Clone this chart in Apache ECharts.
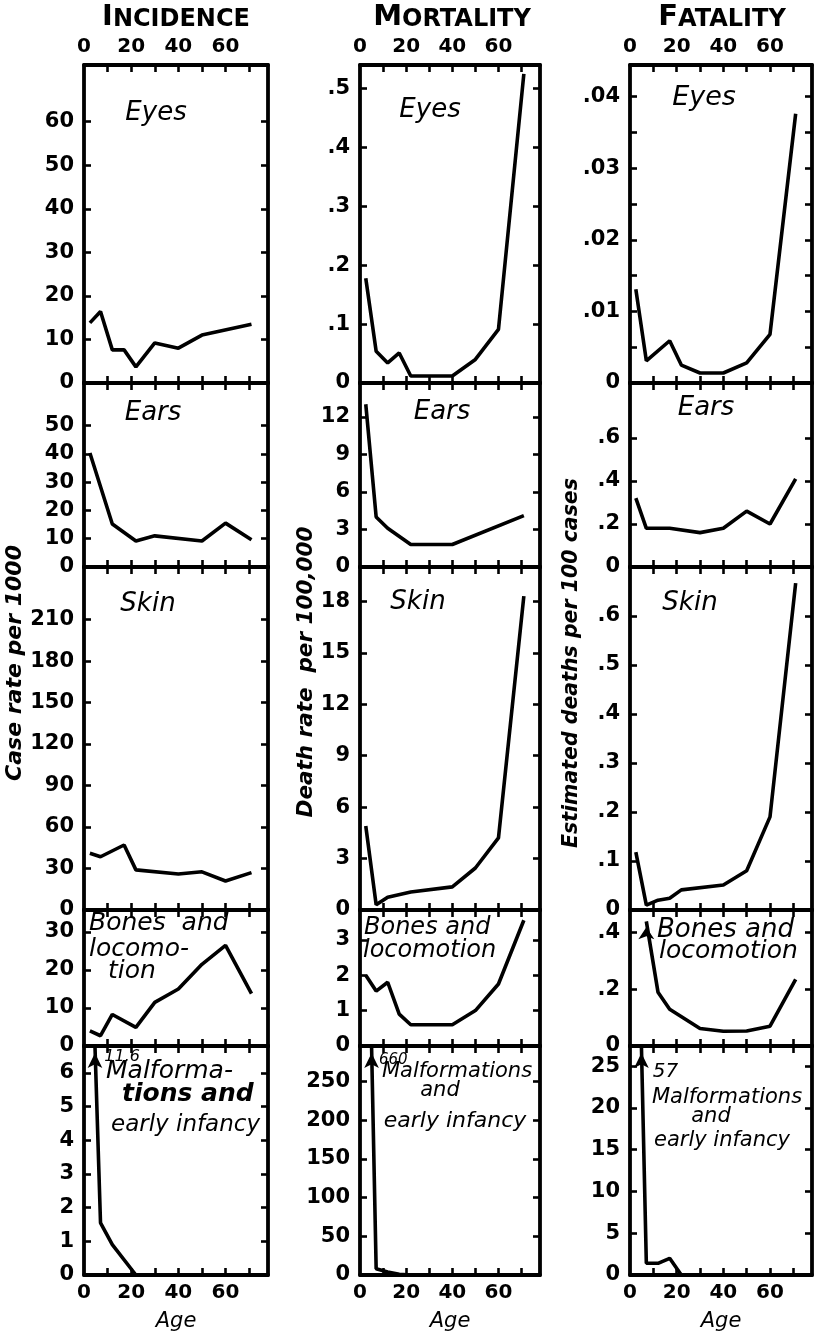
<!DOCTYPE html>
<html><head><meta charset="utf-8">
<script src="https://cdn.jsdelivr.net/npm/echarts@6/dist/echarts.min.js"></script>
<style>html,body{margin:0;padding:0;background:#fff}#c{width:815px;height:1333px}</style>
</head><body><div id="c"></div>
<script>
// ---- data ----
const ages = [2.5, 7, 12, 17, 22, 30, 40, 50, 60, 71];
const xLabelValues = [0, 20, 40, 60];
const xTickValues = [10, 20, 30, 40, 50, 60, 70];

// Incidence: case rate per 1000
const incEyes  = [13.8, 16.4, 7.6, 7.6, 3.7, 9.2, 8.0, 11.0, null, 13.5];
const incEars  = [40.3, null, 15.2, null, 9.2, 11.0, null, 9.2, 15.5, 9.6];
const incSkin  = [41, 38.5, null, 47, 29, null, 26, 27.6, 21, 27];
const incBones = [4.0, 2.7, 8.3, null, 4.9, 11.5, 15.0, 21.5, 26.5, 13.8];
const incMalf  = [11.6, 1.55, 0.9, null, 0, null, null, null, null, null];

// Mortality: death rate per 100,000
const mortEyes  = [0.178, 0.054, 0.034, 0.051, 0.012, null, 0.012, 0.040, 0.091, 0.525];
const mortEars  = [13.0, 4.0, 3.1, null, 1.8, null, 1.8, null, null, 4.1];
const mortSkin  = [4.9, 0.3, 0.75, null, 1.05, null, 1.35, 2.45, 4.2, 18.3];
const mortBones = [2.0, 1.55, 1.8, 0.9, 0.6, null, 0.6, 1.0, 1.75, 3.55];
const mortMalf  = [660, 8, 4, 1, 0, null, null, null, null, null];

// Fatality: estimated deaths per 100 cases
const fatEyes  = [0.0131, 0.0031, null, 0.0059, 0.0025, 0.0014, 0.0014, 0.0028, 0.0068, 0.0376];
const fatEars  = [0.32, 0.18, null, 0.18, null, 0.16, 0.18, 0.26, 0.20, 0.41];
const fatSkin  = [0.118, 0.010, 0.020, 0.024, 0.041, null, 0.051, 0.080, 0.19, 0.667];
const fatBones = [null, 0.44, 0.19, 0.13, null, 0.062, 0.052, 0.053, 0.070, 0.235];
const fatMalf  = [57, 1.4, 1.4, 2.0, 0, null, null, null, null, null];

// y-axis tick labels
const incEyesLabels  = [0, 10, 20, 30, 40, 50, 60];
const incEarsLabels  = [0, 10, 20, 30, 40, 50];
const incSkinLabels  = [0, 30, 60, 90, 120, 150, 180, 210];
const incBonesLabels = [0, 10, 20, 30];
const incMalfLabels  = [0, 1, 2, 3, 4, 5, 6];
const mortEyesLabels  = [0, 0.1, 0.2, 0.3, 0.4, 0.5];
const mortEarsLabels  = [0, 3, 6, 9, 12];
const mortSkinLabels  = [0, 3, 6, 9, 12, 15, 18];
const mortBonesLabels = [0, 1, 2, 3];
const mortMalfLabels  = [0, 50, 100, 150, 200, 250];
const fatEyesLabels  = [0, 0.01, 0.02, 0.03, 0.04];
const fatEyesTicks   = [0, 0.005, 0.01, 0.015, 0.02, 0.025, 0.03, 0.035, 0.04];
const fatEarsLabels  = [0, 0.2, 0.4, 0.6];
const fatSkinLabels  = [0, 0.1, 0.2, 0.3, 0.4, 0.5, 0.6];
const fatBonesLabels = [0, 0.2, 0.4];
const fatMalfLabels  = [0, 5, 10, 15, 20, 25];

// axis tops (upper end of each y scale)
const incMax  = [73, 65, 248, 35.8, 6.8];
const mortMax = [0.54, 14.7, 20, 3.84, 296];
const fatMax  = [0.0444, 0.856, 0.70, 0.48, 27.4];

// ---- layout ----
const FONT = '"DejaVu Sans", sans-serif';
const cols = [{left: 84, width: 184}, {left: 360, width: 180}, {left: 630, width: 182}];
const rows = [{top: 65, height: 318}, {top: 383, height: 184}, {top: 567, height: 343}, {top: 910, height: 136}, {top: 1046, height: 231}];

const panels = [
  {c:0,r:0,v:incEyes,max:incMax[0],lab:incEyesLabels},
  {c:0,r:1,v:incEars,max:incMax[1],lab:incEarsLabels},
  {c:0,r:2,v:incSkin,max:incMax[2],lab:incSkinLabels},
  {c:0,r:3,v:incBones,max:incMax[3],lab:incBonesLabels},
  {c:0,r:4,v:incMalf,max:incMax[4],lab:incMalfLabels,arrowTop:true,lblOff:[0,-4],lblSize:16},
  {c:1,r:0,v:mortEyes,max:mortMax[0],lab:mortEyesLabels},
  {c:1,r:1,v:mortEars,max:mortMax[1],lab:mortEarsLabels},
  {c:1,r:2,v:mortSkin,max:mortMax[2],lab:mortSkinLabels},
  {c:1,r:3,v:mortBones,max:mortMax[3],lab:mortBonesLabels},
  {c:1,r:4,v:mortMalf,max:mortMax[4],lab:mortMalfLabels,arrowTop:true,lblOff:[-2,0],lblSize:15},
  {c:2,r:0,v:fatEyes,max:fatMax[0],lab:fatEyesLabels,ticks:fatEyesTicks},
  {c:2,r:1,v:fatEars,max:fatMax[1],lab:fatEarsLabels},
  {c:2,r:2,v:fatSkin,max:fatMax[2],lab:fatSkinLabels},
  {c:2,r:3,v:fatBones,max:fatMax[3],lab:fatBonesLabels,arrowPeak:true},
  {c:2,r:4,v:fatMalf,max:fatMax[4],lab:fatMalfLabels,arrowTop:true,lblOff:[2,11],lblSize:20}
];

const fmt = v => v === 0 ? '0' : String(+v.toPrecision(6)).replace(/^0\./, '.');
const lineSt = {color: '#000', width: 3.8};
const tickSt = {color: '#000', width: 2.6};
const labSt = {color: '#000', fontFamily: FONT, fontWeight: 'bold', fontSize: 21};

const grid = [], xAxis = [], yAxis = [], series = [];
panels.forEach((p, i) => {
  const col = cols[p.c], row = rows[p.r];
  grid.push({left: col.left, top: row.top, width: col.width, height: row.height, containLabel: false});
  ['bottom', 'top'].forEach(pos => {
    const showLab = (pos === 'bottom' && p.r === 4) || (pos === 'top' && p.r === 0);
    xAxis.push({
      type: 'value', gridIndex: i, min: 0, max: 78, position: pos,
      axisLine: {show: true, onZero: false, lineStyle: lineSt},
      axisTick: {show: true, inside: true, length: 7, customValues: xTickValues, lineStyle: tickSt},
      axisLabel: Object.assign({}, labSt, {show: showLab, customValues: xLabelValues, margin: 8, fontSize: 20}),
      splitLine: {show: false},
      name: (pos === 'bottom' && p.r === 4) ? 'Age' : '',
      nameLocation: 'middle', nameGap: 36,
      nameTextStyle: {color: '#000', fontFamily: FONT, fontStyle: 'italic', fontSize: 21}
    });
  });
  ['left', 'right'].forEach(pos => {
    yAxis.push({
      type: 'value', gridIndex: i, min: 0, max: p.max, position: pos,
      axisLine: {show: true, onZero: false, lineStyle: lineSt},
      axisTick: {show: true, inside: true, length: 7, customValues: p.ticks || p.lab, lineStyle: tickSt},
      axisLabel: Object.assign({}, labSt, {show: pos === 'left', customValues: p.lab, margin: 10, formatter: fmt}),
      splitLine: {show: false}
    });
  });
  const data = ages.map((a, k) => [a, p.v[k]]).filter(d => d[1] !== null);
  const s = {
    type: 'line', xAxisIndex: 2 * i, yAxisIndex: 2 * i, data,
    symbol: 'none', clip: true, silent: true, animation: false,
    lineStyle: {color: '#000', width: 3.6}
  };
  if (p.arrowTop) {
    const v0 = data[0][1], v1 = data[1][1], x0 = data[0][0], x1 = data[1][0];
    const xt = x0 + (x1 - x0) * (v0 - p.max) / (v0 - v1);
    s.markPoint = {
      symbol: 'arrow', symbolSize: [11, 15], symbolOffset: [0, 7], silent: true, animation: false,
      itemStyle: {color: '#000'},
      label: {show: true, position: 'right', distance: 2, offset: p.lblOff, formatter: String(v0),
        color: '#000', fontFamily: FONT, fontStyle: 'italic', fontSize: p.lblSize},
      data: [{coord: [xt, p.max]}]
    };
  }
  if (p.arrowPeak) {
    const pk = data[0];
    s.markPoint = {
      symbol: 'arrow', symbolSize: [12, 12], symbolOffset: [0, 6], silent: true, animation: false,
      itemStyle: {color: '#000'}, label: {show: false},
      data: [{coord: pk}]
    };
  }
  series.push(s);
});

// ---- free texts ----
const g = [];
function txt(text, x, y, o) {
  o = o || {};
  g.push({type: 'text', x, y, rotation: o.rot || 0, silent: true,
    style: {text, fill: '#000', fontFamily: FONT, fontSize: o.size || 25,
      fontStyle: o.italic === false ? 'normal' : 'italic', fontWeight: o.bold ? 'bold' : 'normal',
      textAlign: o.align || 'center', textVerticalAlign: 'middle'}});
}
function title(first, rest, x) {
  g.push({type: 'text', x, y: 32, silent: true,
    style: {text: '{b|' + first + '}{s|' + rest + '}', textAlign: 'center', textVerticalAlign: 'bottom',
      rich: {b: {fontSize: 29, fontWeight: 'bold', fontFamily: FONT, fill: '#000', verticalAlign: 'bottom'},
             s: {fontSize: 24, fontWeight: 'bold', fontFamily: FONT, fill: '#000', verticalAlign: 'bottom'}}}});
}
title('I', 'NCIDENCE', 176);
title('M', 'ORTALITY', 452);
title('F', 'ATALITY', 722);

// column 1
txt('Eyes', 156, 113, {size: 26});
txt('Ears', 153, 413, {size: 26});
txt('Skin', 148, 604, {size: 26});
txt('Bones  and', 89, 923, {size: 25, align: 'left'});
txt('locomo-', 89, 949, {size: 25, align: 'left'});
txt('tion', 108, 971, {size: 25, align: 'left'});
txt('Malforma-', 106, 1071, {size: 25, align: 'left'});
txt('tions and', 122, 1094, {size: 25, align: 'left', bold: true});
txt('early infancy', 111, 1125, {size: 23, align: 'left'});
// column 2
txt('Eyes', 430, 110, {size: 26});
txt('Ears', 442, 412, {size: 26});
txt('Skin', 418, 602, {size: 26});
txt('Bones and', 364, 928, {size: 24, align: 'left'});
txt('locomotion', 363, 951, {size: 24, align: 'left'});
txt('Malformations', 457, 1072, {size: 21});
txt('and', 440, 1091, {size: 21});
txt('early infancy', 455, 1121, {size: 22});
// column 3
txt('Eyes', 704, 98, {size: 27});
txt('Ears', 706, 408, {size: 26});
txt('Skin', 690, 603, {size: 26});
txt('Bones and', 657, 930, {size: 26, align: 'left'});
txt('locomotion', 659, 951, {size: 25, align: 'left'});
txt('Malformations', 727, 1098, {size: 21});
txt('and', 711, 1117, {size: 21});
txt('early infancy', 722, 1141, {size: 21});
// y-axis names
txt('Case rate per 1000', 15, 663, {size: 22, rot: Math.PI / 2, bold: true});
txt('Death rate  per 100,000', 306, 672, {size: 21.5, rot: Math.PI / 2, bold: true});
txt('Estimated deaths per 100 cases', 572, 663, {size: 20.5, rot: Math.PI / 2, bold: true});

const chart = echarts.init(document.getElementById('c'), null, {renderer: 'canvas'});
chart.setOption({
  animation: false, backgroundColor: '#fff',
  grid, xAxis, yAxis, series, graphic: g
});
</script></body></html>
